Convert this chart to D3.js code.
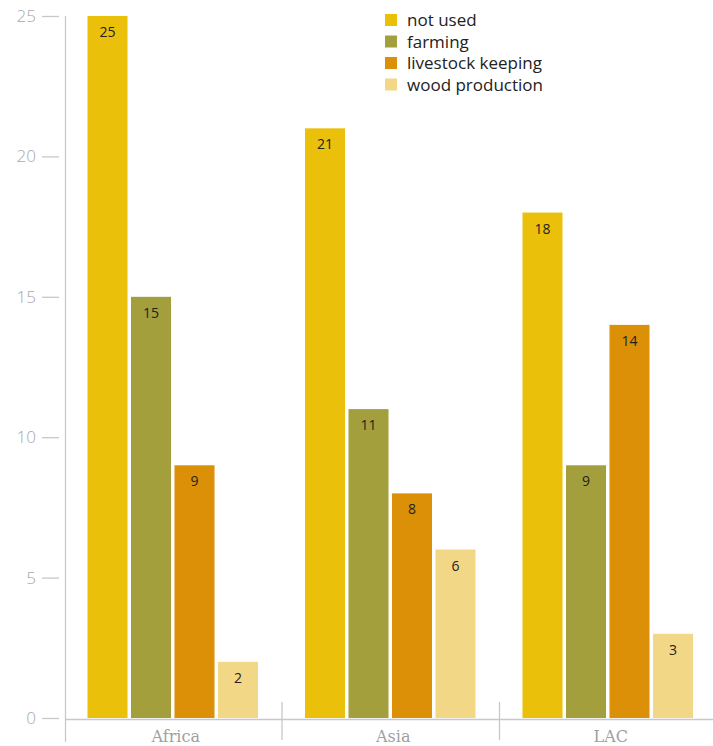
<!DOCTYPE html>
<html><head><meta charset="utf-8">
<script src="https://cdn.jsdelivr.net/npm/d3@7"></script>
<style>body{margin:0;background:#fff}svg{display:block}</style>
</head><body>
<svg id="c" width="713" height="746"></svg>
<script>
const regions = ["Africa", "Asia", "LAC"];
const uses = ["not used", "farming", "livestock keeping", "wood production"];
const notUsed = [25, 21, 18];
const farming = [15, 11, 9];
const livestock = [9, 8, 14];
const wood = [2, 6, 3];
const yTicks = [0, 5, 10, 15, 20, 25];
const colors = ["#EBC00B", "#A39F3D", "#DC9008", "#F2D886"];

const series = [notUsed, farming, livestock, wood];
const svg = d3.select("#c");
const y = d3.scaleLinear().domain([0, 25]).range([718, 16]);
const x0 = d3.scaleBand().domain(regions).range([64, 716.5]);
const x1 = d3.scaleBand().domain(uses).range([23.5, x0.bandwidth() - 23.5]).paddingInner(0.08);

// y axis ticks
const gy = svg.append("g");
gy.selectAll("line.t").data(yTicks).join("line")
  .attr("x1", 42).attr("x2", 59).attr("y1", d => y(d) + 0.5).attr("y2", d => y(d) + 0.5)
  .attr("stroke", "#c8c8c8").attr("stroke-width", 1.3);
gy.selectAll("text").data(yTicks).join("text")
  .attr("x", 36).attr("y", d => y(d) + 6).attr("text-anchor", "end")
  .attr("font-family", "Open Sans, sans-serif").attr("font-size", 17).attr("font-weight", 300)
  .attr("fill", "#a8a8a8").text(d => d);
svg.append("line").attr("x1", 65.5).attr("x2", 65.5).attr("y1", 16).attr("y2", 742)
  .attr("stroke", "#c8c8c8").attr("stroke-width", 1.3);

// bars
const groups = svg.append("g").selectAll("g").data(regions).join("g")
  .attr("transform", d => `translate(${x0(d)},0)`);
groups.each(function(r, ri) {
  const g = d3.select(this);
  const data = uses.map((u, ui) => ({u, ui, v: series[ui][ri]}));
  g.selectAll("rect").data(data).join("rect")
    .attr("x", d => x1(d.u)).attr("width", x1.bandwidth())
    .attr("y", d => y(d.v)).attr("height", d => y(0) - y(d.v))
    .attr("fill", d => colors[d.ui]);
  g.selectAll("text").data(data).join("text")
    .attr("x", d => x1(d.u) + x1.bandwidth() / 2).attr("y", d => y(d.v) + 21)
    .attr("text-anchor", "middle").attr("font-family", "Open Sans, sans-serif")
    .attr("font-size", 14).attr("font-weight", 500).attr("fill", "#222").text(d => d.v);
});

// x axis
svg.append("line").attr("x1", 65).attr("x2", 713).attr("y1", 719.5).attr("y2", 719.5)
  .attr("stroke", "#c8c8c8").attr("stroke-width", 1.3);
svg.selectAll("line.sep").data(regions.slice(1)).join("line").attr("class", "sep")
  .attr("x1", d => x0(d) + 0.5).attr("x2", d => x0(d) + 0.5).attr("y1", 702).attr("y2", 740)
  .attr("stroke", "#c8c8c8").attr("stroke-width", 1.3);
svg.selectAll("text.cat").data(regions).join("text").attr("class", "cat")
  .attr("x", d => x0(d) + x0.bandwidth() / 2 + 3).attr("y", 742)
  .attr("text-anchor", "middle").attr("font-family", "DejaVu Serif, serif")
  .attr("font-size", 16).attr("fill", "#a0a0a0").text(d => d);

// legend
const lg = svg.append("g").selectAll("g").data(uses).join("g")
  .attr("transform", (d, i) => `translate(385,${14 + i * 21.5})`);
lg.append("rect").attr("width", 12).attr("height", 12).attr("fill", (d, i) => colors[i]);
lg.append("text").attr("x", 22).attr("y", 12).attr("font-family", "Open Sans, sans-serif")
  .attr("font-size", 17).attr("fill", "#222").text(d => d);
</script>
</body></html>
